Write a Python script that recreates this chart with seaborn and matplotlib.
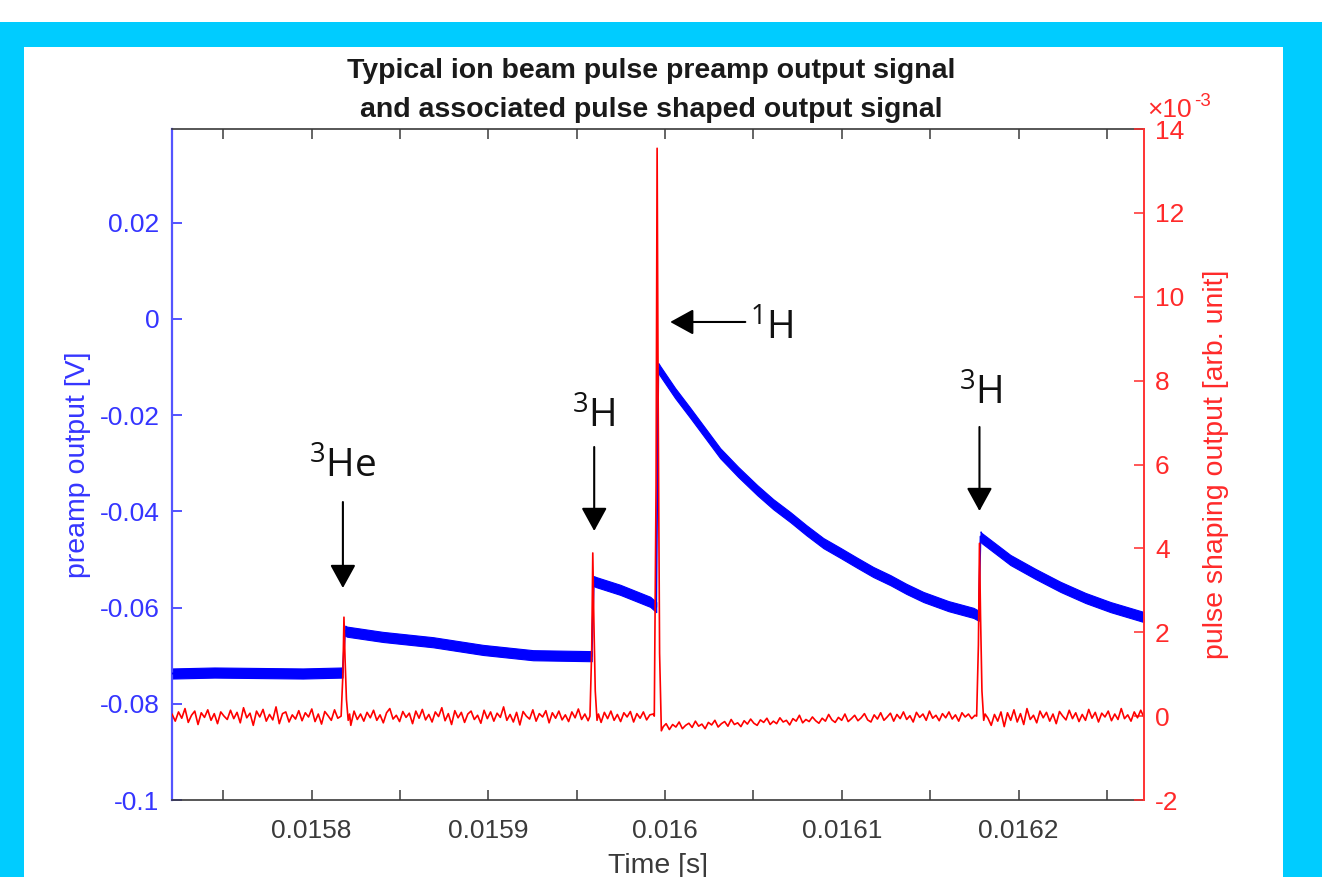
import numpy as np
import pandas as pd
import matplotlib
matplotlib.use("Agg")
import matplotlib.pyplot as plt
import seaborn as sns
from matplotlib.patches import Rectangle
from matplotlib.ticker import FixedLocator, FixedFormatter

# ---------------- data ----------------
# preamp output [V]: trend of the (noisy) trace, one list per segment between pulses
blue_a_t = [0.015721, 0.015745, 0.015770, 0.015795, 0.0158175]
blue_a_v = [-0.0737, -0.0735, -0.0736, -0.0737, -0.0735]
blue_b_t = [0.0158190, 0.0158200, 0.0158404, 0.0158687, 0.0158970, 0.0159253, 0.0159585]
blue_b_v = [-0.0648, -0.0650, -0.0661, -0.0672, -0.0688, -0.0699, -0.0701]
blue_c_t = [0.0159597, 0.0159610, 0.0159746, 0.0159916, 0.0159950]
blue_c_v = [-0.0545, -0.0547, -0.0563, -0.0588, -0.0599]
blue_d_t = [0.0159962, 0.0159972, 0.0160057, 0.0160142, 0.0160227, 0.0160312, 0.0160414,
            0.0160522, 0.0160612, 0.0160709, 0.0160799, 0.0160896, 0.0160991, 0.0161088,
            0.0161178, 0.0161275, 0.0161365, 0.0161462, 0.0161604, 0.0161745, 0.0161775]
blue_d_v = [-0.0102, -0.0108, -0.0154, -0.0195, -0.0237, -0.0279, -0.0318,
            -0.0356, -0.0385, -0.0412, -0.0439, -0.0466, -0.0486, -0.0507,
            -0.0526, -0.0543, -0.0561, -0.0578, -0.0597, -0.0611, -0.0617]
blue_e_t = [0.0161785, 0.0161790, 0.0161954, 0.0162096, 0.0162238, 0.0162379, 0.0162521, 0.0162713]
blue_e_v = [-0.0452, -0.0455, -0.0501, -0.0530, -0.0557, -0.0580, -0.0599, -0.0620]

# pulse shaping output [x1e-3 arb. unit]: baseline samples over the time window
red_t_start, red_t_end = 0.015721, 0.016271
red_noise = [
    0.05, -0.12, 0.10, -0.05, 0.18, -0.15, 0.02, 0.12, -0.20, 0.08, -0.03, 0.15, -0.10, 0.06, -0.18, 0.10, 0.00, -0.08, 0.14, -0.06,
    0.09, -0.16, 0.20, -0.04, 0.07, -0.22, 0.12, -0.02, 0.16, -0.12, 0.04, -0.09, 0.22, -0.18, 0.06, 0.10, -0.14, 0.03, -0.07, 0.13,
    -0.11, 0.08, -0.02, 0.17, -0.13, 0.05, -0.19, 0.11, 0.01, -0.10, 0.15, -0.05, 0.10, 0.00, 0.00, -0.22, 0.12, -0.08, 0.05, -0.12,
    0.09, -0.04, 0.14, -0.10, 0.03, -0.16, 0.08, 0.18, -0.07, 0.02, -0.13, 0.11, -0.03, 0.07, -0.18, 0.12, -0.05, 0.16, -0.09, 0.04,
    -0.14, 0.10, -0.01, 0.20, -0.11, 0.06, -0.20, 0.13, -0.04, 0.09, -0.15, 0.05, 0.12, -0.08, 0.02, -0.17, 0.14, -0.06, 0.10, -0.12,
    0.07, -0.03, 0.22, -0.10, 0.04, -0.14, 0.09, -0.21, 0.11, 0.00, -0.07, 0.15, -0.12, 0.06, -0.02, 0.13, -0.16, 0.08, -0.05, 0.12,
    -0.09, 0.03, -0.13, 0.10, -0.04, 0.17, -0.08, 0.05, -0.11, 0.00, 0.00, 0.00, -0.15, 0.09, -0.06, 0.12, -0.10, 0.04, -0.13, 0.08,
    -0.02, 0.11, -0.14, 0.06, -0.05, 0.10, -0.09, 0.03, 0.05, 0.00, 0.00, -0.28, -0.18, -0.32, -0.20, -0.26, -0.14, -0.30, -0.22, -0.17,
    -0.27, -0.12, -0.24, -0.19, -0.30, -0.15, -0.21, -0.10, -0.26, -0.18, -0.13, -0.24, -0.08, -0.20, -0.16, -0.25, -0.11, -0.19, -0.07, -0.17,
    -0.22, -0.09, -0.15, -0.05, -0.20, -0.12, -0.18, -0.04, -0.14, -0.10, -0.21, -0.06, -0.12, 0.02, -0.16, -0.08, -0.13, -0.02, -0.11, -0.17,
    -0.05, -0.12, 0.04, -0.09, -0.15, -0.03, -0.10, 0.05, -0.13, -0.06, 0.02, -0.11, -0.04, 0.06, -0.09, -0.14, 0.03, -0.07, 0.08, -0.10,
    -0.02, 0.07, -0.12, 0.04, -0.06, 0.10, -0.08, 0.01, -0.14, 0.09, -0.03, 0.05, -0.10, 0.12, -0.05, 0.02, -0.11, 0.06, -0.04, 0.10,
    -0.07, 0.03, -0.12, 0.08, -0.02, 0.05, -0.06, 0.02, 0.00, 0.00, -0.18, -0.05, -0.22, 0.04, -0.12, 0.10, -0.25, 0.08, -0.10, 0.15,
    -0.14, 0.06, -0.20, 0.18, -0.08, 0.02, -0.16, 0.12, -0.04, 0.09, -0.12, 0.05, -0.18, 0.11, 0.00, -0.09, 0.14, -0.06, 0.08, -0.13,
    0.04, -0.10, 0.16, -0.05, 0.09, -0.14, 0.07, -0.02, 0.12, -0.11, 0.05, -0.08, 0.18, -0.06, 0.03, -0.12, 0.10, -0.04, 0.14, -0.03,
]
# shaped pulses (time, value x1e-3)
pulse1_t = [0.0158167, 0.0158177, 0.0158183, 0.0158189, 0.0158197, 0.0158207, 0.0158215]
pulse1_v = [0.0, 1.0, 2.36, 1.4, 0.4, -0.1, 0.05]
pulse2_t = [0.0159575, 0.0159585, 0.0159591, 0.0159597, 0.0159605, 0.0159615, 0.0159623]
pulse2_v = [0.0, 1.6, 3.89, 2.3, 0.6, -0.1, 0.05]
pulse3_t = [0.0159939, 0.0159949, 0.0159955, 0.0159961, 0.0159969, 0.0159979, 0.0159990]
pulse3_v = [0.0, 5.5, 13.54, 7.5, 1.5, -0.35, -0.25]
pulse4_t = [0.0161763, 0.0161773, 0.0161779, 0.0161785, 0.0161793, 0.0161803, 0.0161811]
pulse4_v = [0.0, 1.7, 4.12, 2.4, 0.6, -0.1, 0.05]

# axes ticks / labels
x_ticks = [0.01575, 0.01580, 0.01585, 0.01590, 0.01595, 0.01600, 0.01605,
           0.01610, 0.01615, 0.01620, 0.01625]
x_tick_labels = ["", "0.0158", "", "0.0159", "", "0.016", "", "0.0161", "", "0.0162", ""]
yl_ticks = [-0.1, -0.08, -0.06, -0.04, -0.02, 0.0, 0.02]
yl_tick_labels = ["-0.1", "-0.08", "-0.06", "-0.04", "-0.02", "0", "0.02"]
yr_ticks = [-2, 0, 2, 4, 6, 8, 10, 12, 14]
yr_tick_labels = ["-2", "0", "2", "4", "6", "8", "10", "12", "14"]

# annotations: label, text anchor (t, v), arrow tail (t, v), arrow tip (t, v)
ann_labels = ["$^{3}$He", "$^{3}$H", "$^{1}$H", "$^{3}$H"]
ann_text_pos = [(0.0158177, -0.03306), (0.0159599, -0.02266), (0.0160483, -0.00437), (0.0161785, -0.01788)]
ann_tail = [(0.0158177, -0.03805), (0.0159599, -0.02661), (0.0160454, -0.00062), (0.0161779, -0.02245)]
ann_tip = [(0.0158177, -0.05593), (0.0159599, -0.04407), (0.0160029, -0.00062), (0.0161779, -0.03992)]
ann_ha = ["center", "center", "left", "center"]

# ---------------- styling ----------------
sns.set_theme(style="white")
plt.rcParams["font.family"] = ["Liberation Sans", "DejaVu Sans"]
plt.rcParams["mathtext.fontset"] = "custom"
plt.rcParams["mathtext.rm"] = "Open Sans"
plt.rcParams["mathtext.it"] = "Open Sans"

W, H = 1322, 877
fig = plt.figure(figsize=(W / 100, H / 100), dpi=100)
fig.patch.set_facecolor("white")
fig.add_artist(Rectangle((0, 0), 1, (H - 22) / H, transform=fig.transFigure,
                         facecolor="#00CCFF", edgecolor="none", zorder=-10))
fig.add_artist(Rectangle((24 / W, 0), (1283 - 24) / W, (H - 47) / H, transform=fig.transFigure,
                         facecolor="white", edgecolor="none", zorder=-9))

ax = fig.add_axes([172 / W, (H - 800) / H, (1144 - 172) / W, (800 - 129) / H])
ax.set_facecolor("white")

BLUE = "#0000FF"
BAND = 0.00105
segments = [(blue_a_t, blue_a_v), (blue_b_t, blue_b_v), (blue_c_t, blue_c_v),
            (blue_d_t, blue_d_v), (blue_e_t, blue_e_v)]
for t, v in segments:
    t = np.asarray(t)
    v = np.asarray(v)
    ax.fill_between(t, v - BAND, v + BAND, color=BLUE, lw=0.8, edgecolor=BLUE, zorder=2)

all_t = np.concatenate([s[0] for s in segments])
all_v = np.concatenate([s[1] for s in segments])
df_blue = pd.DataFrame({"t": all_t, "v": all_v})
sns.lineplot(data=df_blue, x="t", y="v", ax=ax, color=BLUE, lw=1.3, sort=False,
             estimator=None, zorder=3)

# red trace: baseline samples + inserted pulses
grid_t = np.linspace(red_t_start, red_t_end, len(red_noise))
grid_v = np.asarray(red_noise)
keep = np.ones(len(grid_t), dtype=bool)
pulses = [(pulse1_t, pulse1_v), (pulse2_t, pulse2_v), (pulse3_t, pulse3_v), (pulse4_t, pulse4_v)]
for pt, pv in pulses:
    keep &= ~((grid_t >= min(pt) - 0.2e-6) & (grid_t <= max(pt) + 0.2e-6))
red_t = np.concatenate([grid_t[keep]] + [np.asarray(p[0]) for p in pulses])
red_v = np.concatenate([grid_v[keep]] + [np.asarray(p[1]) for p in pulses])
order = np.argsort(red_t)
df_red = pd.DataFrame({"t": red_t[order], "v": red_v[order]})

ax2 = ax.twinx()
sns.lineplot(data=df_red, x="t", y="v", ax=ax2, color="#FF0000", lw=1.2, sort=False,
             estimator=None)

# limits & ticks
ax.set_xlim(0.015721, 0.016271)
ax.set_ylim(-0.1, 0.0395)
ax2.set_ylim(-2, 14)

ax.xaxis.set_major_locator(FixedLocator(x_ticks))
ax.xaxis.set_major_formatter(FixedFormatter(x_tick_labels))
ax.yaxis.set_major_locator(FixedLocator(yl_ticks))
ax.yaxis.set_major_formatter(FixedFormatter(yl_tick_labels))
ax2.yaxis.set_major_locator(FixedLocator(yr_ticks))
ax2.yaxis.set_major_formatter(FixedFormatter(yr_tick_labels))

AXBLUE = "#3535FF"
AXRED = "#FF2A2A"
GRAY = "#3a3a3a"
ax.tick_params(axis="x", which="both", direction="in", length=7.5, width=1.1, top=True,
               bottom=True, colors=GRAY, labelsize=19, pad=14)
ax.tick_params(axis="y", direction="in", length=7.5, width=1.2, left=True, right=False,
               colors=AXBLUE, labelsize=19, pad=9)
ax2.tick_params(axis="y", direction="in", length=7.5, width=1.1, left=False, right=True,
                colors=AXRED, labelsize=19, pad=8)

for s in ["top", "bottom"]:
    ax.spines[s].set_color(GRAY)
    ax.spines[s].set_linewidth(1.2)
ax.spines["left"].set_color("#5555FF")
ax.spines["left"].set_linewidth(1.6)
ax.spines["right"].set_visible(False)
for s in ["top", "bottom", "left"]:
    ax2.spines[s].set_visible(False)
ax2.spines["right"].set_color("#FF3333")
ax2.spines["right"].set_linewidth(1.4)
ax2.grid(False)
ax.grid(False)

ax.set_xlabel("Time [s]", fontsize=20.5, color=GRAY, labelpad=7)
ax.set_ylabel("preamp output [V]", fontsize=20.5, color=AXBLUE, labelpad=6)
ax2.set_ylabel("pulse shaping output [arb. unit]", fontsize=20.5, color=AXRED, labelpad=13)

# title
fig.text(651 / W, 1 - 78 / H, "Typical ion beam pulse preamp output signal", ha="center",
         va="baseline", fontsize=20.5, fontweight="bold", color="#1a1a1a")
fig.text(651 / W, 1 - 117 / H, "and associated pulse shaped output signal", ha="center",
         va="baseline", fontsize=20.5, fontweight="bold", color="#1a1a1a")

# exponent marker of the right axis
fig.text(1147 / W, 1 - 117 / H, "\u00d710", ha="left", va="baseline", fontsize=19, color=AXRED)
fig.text(1194 / W, 1 - 106 / H, "-3", ha="left", va="baseline", fontsize=13.5, color=AXRED)

# annotations
for lab, (tx, tv), (at, av), (pt, pv), ha in zip(ann_labels, ann_text_pos, ann_tail, ann_tip, ann_ha):
    ax.annotate("", xy=(pt, pv), xytext=(at, av),
                arrowprops=dict(arrowstyle="-|>,head_length=0.4,head_width=0.22",
                                mutation_scale=36, color="black", lw=1.5,
                                shrinkA=0, shrinkB=0), zorder=5)
    ax.text(tx, tv, lab, ha=ha, va="baseline", fontsize=28, color="#111111",
            family="Open Sans", zorder=5)

fig.savefig("out.png", dpi=100, facecolor=fig.get_facecolor())
